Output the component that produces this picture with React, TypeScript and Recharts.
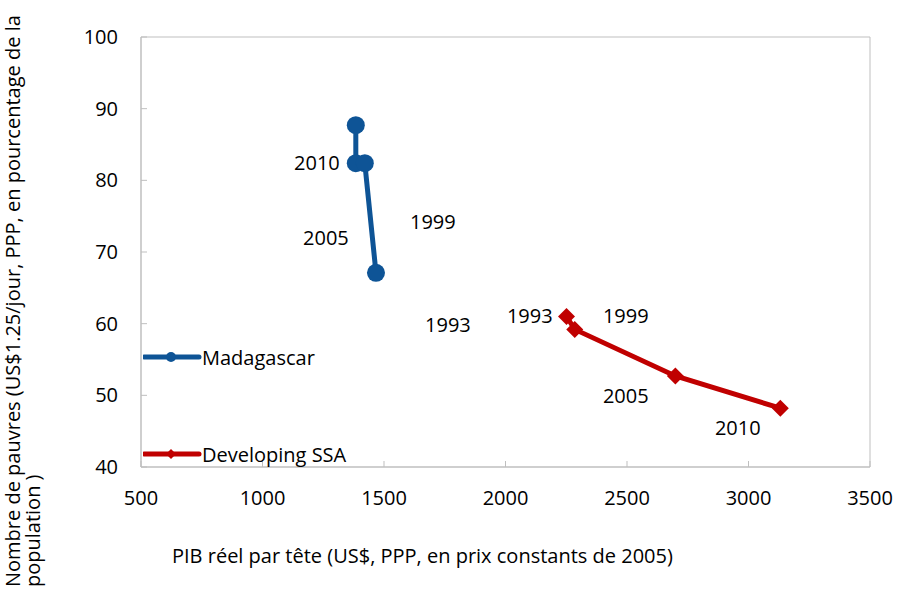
import React from 'react';
import { ScatterChart, Scatter, XAxis, YAxis, ReferenceArea, Label } from 'recharts';

const madagascar = [
  { x: 1384, y: 87.7 },
  { x: 1384, y: 82.4 },
  { x: 1421, y: 82.4 },
  { x: 1467, y: 67.1 },
];
const developingSSA = [
  { x: 2251, y: 61.0 },
  { x: 2285, y: 59.2 },
  { x: 2699, y: 52.7 },
  { x: 3131, y: 48.2 },
];
const yearLabels = [
  { x: 1224, y: 82.4, label: '2010' },
  { x: 1261, y: 72.0, label: '2005' },
  { x: 1701, y: 74.2, label: '1999' },
  { x: 1763, y: 59.8, label: '1993' },
  { x: 2100, y: 61.1, label: '1993' },
  { x: 2495, y: 61.1, label: '1999' },
  { x: 2495, y: 49.9, label: '2005' },
  { x: 2956, y: 45.5, label: '2010' },
];
const xTicks = [500, 1000, 1500, 2000, 2500, 3000, 3500];
const yTicks = [40, 50, 60, 70, 80, 90, 100];
const xTitle = 'PIB réel par tête (US$, PPP, en prix constants de 2005)';
const yTitle1 = 'Nombre de pauvres (US$1.25/jour, PPP, en pourcentage de la';
const yTitle2 = 'population )';
const seriesNames = ['Madagascar', 'Developing SSA'];

const BLUE = '#0E5496';
const RED = '#C00000';
const AXIS = '#BFBFBF';
const FONT = '"Open Sans", "Noto Sans", sans-serif';
const FS = 20;

const XTick = (props: any) => {
  const { x, y, payload } = props;
  return (
    <g>
      <line x1={x} y1={y} x2={x} y2={y - 6} stroke={AXIS} />
      <text x={x} y={y + 38} textAnchor="middle" fontSize={FS} fontFamily={FONT} fill="#000">
        {payload.value}
      </text>
    </g>
  );
};

const YTick = (props: any) => {
  const { x, y, payload } = props;
  return (
    <g>
      <line x1={x} y1={y} x2={x + 6} y2={y} stroke={AXIS} />
      <text x={x - 23} y={y + 7} textAnchor="end" fontSize={FS} fontFamily={FONT} fill="#000">
        {payload.value}
      </text>
    </g>
  );
};

const CircleShape = (props: any) => {
  const { cx, cy } = props;
  return <circle cx={cx} cy={cy} r={9} fill={BLUE} />;
};

const DiamondShape = (props: any) => {
  const { cx, cy } = props;
  const s = 8.5;
  return <path d={`M${cx},${cy - s}L${cx + s},${cy}L${cx},${cy + s}L${cx - s},${cy}Z`} fill={RED} />;
};

const TextShape = (props: any) => {
  const { cx, cy, payload } = props;
  return (
    <text x={cx} y={cy + 7} textAnchor="middle" fontSize={FS} fontFamily={FONT} fill="#000">
      {payload.label}
    </text>
  );
};

const YTitle = () => (
  <g>
    <text transform="translate(20,587) rotate(-90)" fontSize={FS} fontFamily={FONT} fill="#000">
      {yTitle1}
    </text>
    <text transform="translate(40,587) rotate(-90)" fontSize={FS} fontFamily={FONT} fill="#000">
      {yTitle2}
    </text>
  </g>
);

const XTitle = () => (
  <text x={172} y={563} fontSize={FS} fontFamily={FONT} fill="#000">
    {xTitle}
  </text>
);

const LegendItem = ({ name, color, marker, top }: any) => (
  <div
    style={{
      position: 'absolute',
      left: 143,
      top,
      display: 'flex',
      alignItems: 'center',
      fontFamily: FONT,
      fontSize: FS,
      color: '#000',
      whiteSpace: 'nowrap',
      height: 24,
    }}
  >
    <svg width={59} height={12} style={{ display: 'block' }}>
      <line x1={1} y1={6} x2={56} y2={6} stroke={color} strokeWidth={5} strokeLinecap="round" />
      {marker === 'circle' ? (
        <circle cx={28} cy={6} r={5} fill={color} />
      ) : (
        <path d="M28,1L33,6L28,11L23,6Z" fill={color} />
      )}
    </svg>
    <span>{name}</span>
  </div>
);

export default function App() {
  return (
    <div style={{ position: 'absolute', left: 0, top: 0, width: 907, height: 589, background: '#fff' }}>
      <ScatterChart width={907} height={589} margin={{ top: 37, right: 37, left: 0, bottom: 0 }}>
        <XAxis
          type="number"
          dataKey="x"
          domain={[500, 3500]}
          ticks={xTicks}
          stroke={AXIS}
          tickLine={false}
          tickSize={0}
          tickMargin={0}
          tick={<XTick />}
          height={122}
          interval={0}
        >
          <Label content={<XTitle />} />
        </XAxis>
        <YAxis
          type="number"
          dataKey="y"
          domain={[40, 100]}
          ticks={yTicks}
          stroke={AXIS}
          tickLine={false}
          tickSize={0}
          tickMargin={0}
          tick={<YTick />}
          width={141}
          interval={0}
        >
          <Label content={<YTitle />} />
        </YAxis>
        <ReferenceArea x1={500} x2={3500} y1={40} y2={100} fill="none" stroke={AXIS} strokeWidth={1} />
        <Scatter
          name={seriesNames[0]}
          data={madagascar}
          fill={BLUE}
          line={{ stroke: BLUE, strokeWidth: 5 }}
          lineType="joint"
          shape={<CircleShape />}
          isAnimationActive={false}
        />
        <Scatter
          name={seriesNames[1]}
          data={developingSSA}
          fill={RED}
          line={{ stroke: RED, strokeWidth: 5 }}
          lineType="joint"
          shape={<DiamondShape />}
          isAnimationActive={false}
        />
        <Scatter
          name="labels"
          data={yearLabels}
          shape={<TextShape />}
          legendType="none"
          isAnimationActive={false}
        />
      </ScatterChart>
      <LegendItem name={seriesNames[0]} color={BLUE} marker="circle" top={345} />
      <LegendItem name={seriesNames[1]} color={RED} marker="diamond" top={442} />
    </div>
  );
}
